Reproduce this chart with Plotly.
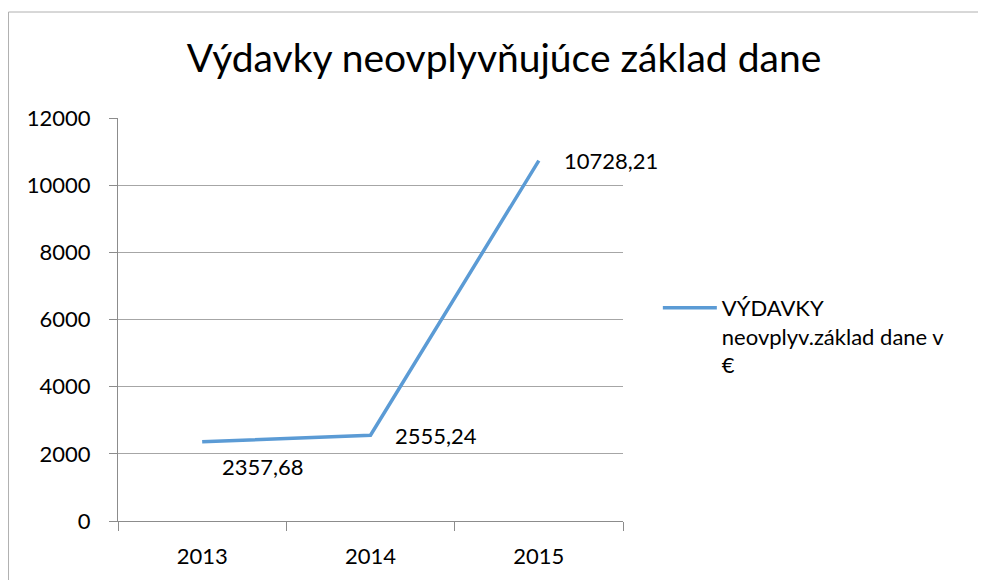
import plotly.graph_objects as go

years = ["2013", "2014", "2015"]
values = [2357.68, 2555.24, 10728.21]
value_labels = ["2357,68", "2555,24", "10728,21"]
series_name = "VÝDAVKY<br>neovplyv.základ dane v<br>€"
title_text = "Výdavky neovplyvňujúce základ dane"
y_ticks = [0, 2000, 4000, 6000, 8000, 10000, 12000]

FONT = "Lato"
GRID = "#A6A6A6"
AXIS = "#8C8C8C"

W, H = 978, 572  # page body adds an 8px offset

fig = go.Figure()
fig.add_trace(go.Scatter(
    x=years, y=values, mode="lines", name=series_name,
    line=dict(color="#5B9BD5", width=3.5),
    showlegend=True,
))

# data labels (offsets in px), anchored at category index
label_shift = [(18, -25), (22, 0), (23, 0)]
for i, (yv, txt, (dx, dy)) in enumerate(zip(values, value_labels, label_shift)):
    fig.add_annotation(x=i, y=yv, xref="x", yref="y", text=txt, showarrow=False,
                       xanchor="left", yanchor="middle", xshift=dx, yshift=dy,
                       font=dict(family=FONT, size=22, color="#000000"))

# chart-area border
fig.add_shape(type="rect", xref="paper", yref="paper",
              x0=-0.2168, x1=1.9, y0=-0.3, y1=1.263,
              line=dict(color="#B0B0B0", width=1), fillcolor="rgba(0,0,0,0)", layer="below")

fig.update_layout(
    width=W, height=H, autosize=False,
    margin=dict(l=110, r=363, t=110, b=59),
    paper_bgcolor="white", plot_bgcolor="white",
    font=dict(family=FONT, size=22, color="#000000"),
    title=dict(text=title_text, x=496 / W, xanchor="center", y=1 - 50 / H, yanchor="middle",
               yref="container", xref="container",
               font=dict(family=FONT, size=39, color="#000000")),
    legend=dict(x=1.069, y=0.581, xanchor="left", yanchor="top", valign="top",
                font=dict(family=FONT, size=22, color="#000000"),
                bgcolor="rgba(0,0,0,0)", borderwidth=0, itemwidth=54),
    xaxis=dict(type="category", range=[-0.5, 2.5], tickson="boundaries",
               ticks="outside", ticklen=9, tickcolor=AXIS, showgrid=False,
               showline=True, linecolor=AXIS, linewidth=1, ticklabelstandoff=16),
    yaxis=dict(range=[0, 12000], tickvals=y_ticks, tickformat="d",
               ticks="outside", ticklen=8, tickcolor=AXIS, showgrid=True, gridcolor=GRID,
               gridwidth=1, showline=True, linecolor=AXIS, linewidth=1, zeroline=False,
               ticklabelstandoff=14),
)

fig.write_html("out.html")
